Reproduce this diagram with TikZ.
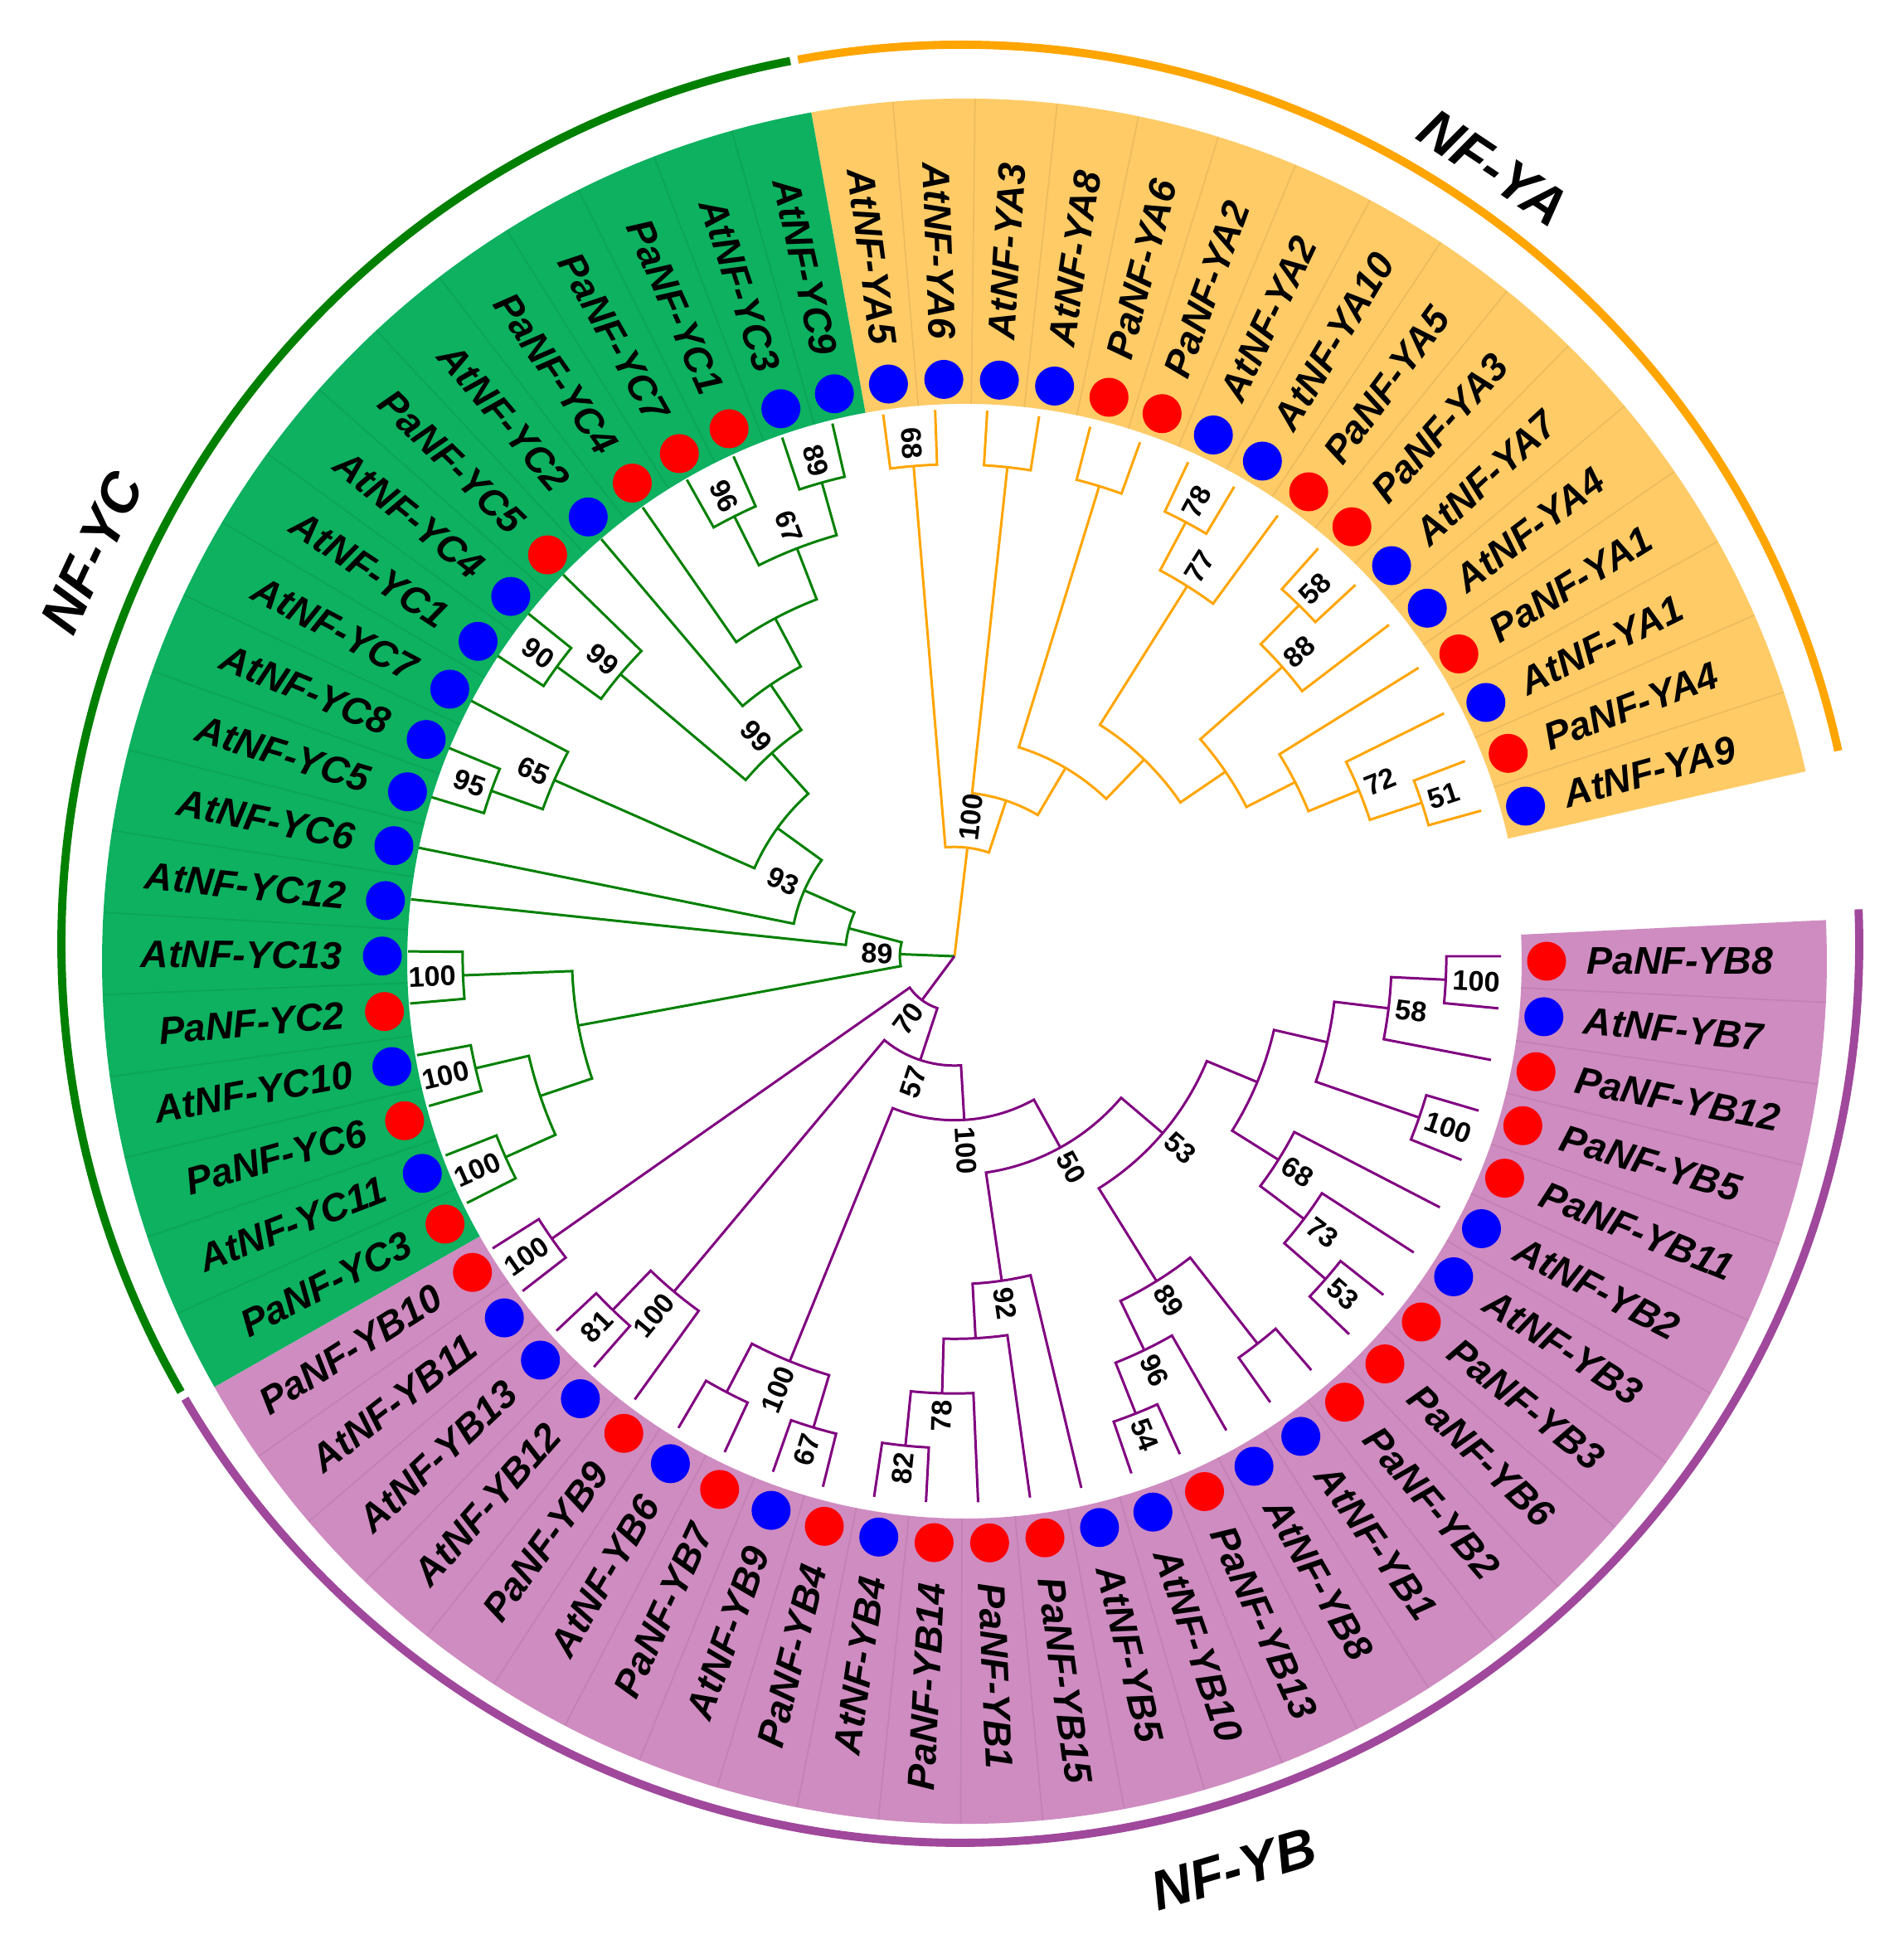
\documentclass[tikz,border=0pt]{standalone}
\usepackage{fontspec}
\setmainfont{Liberation Sans}
\usepackage{tikz}
\usetikzlibrary{calc}

\definecolor{yaline}{HTML}{FFA500}
\definecolor{ycline}{HTML}{008000}
\definecolor{ybline}{HTML}{800080}
\definecolor{yaband}{HTML}{FECB66}
\definecolor{ycband}{HTML}{0DB160}
\definecolor{ybband}{HTML}{CF8CC1}
\definecolor{ybring}{HTML}{A0489C}
\definecolor{At}{HTML}{0000FF}
\definecolor{Pa}{HTML}{FF0000}

\newcommand{\yalist}{At/YA5,At/YA6,At/YA3,At/YA8,Pa/YA6,Pa/YA2,At/YA2,At/YA10,Pa/YA5,Pa/YA3,At/YA7,At/YA4,Pa/YA1,At/YA1,Pa/YA4,At/YA9}
\newcommand{\yblist}{Pa/YB8,At/YB7,Pa/YB12,Pa/YB5,Pa/YB11,At/YB2,At/YB3,Pa/YB3,Pa/YB6,Pa/YB2,At/YB1,At/YB8,Pa/YB13,At/YB10,At/YB5,Pa/YB15,Pa/YB1,Pa/YB14,At/YB4,Pa/YB4,At/YB9,Pa/YB7,At/YB6,Pa/YB9,At/YB12,At/YB13,At/YB11,Pa/YB10}
\newcommand{\yclist}{Pa/YC3,At/YC11,Pa/YC6,At/YC10,Pa/YC2,At/YC13,At/YC12,At/YC6,At/YC5,At/YC8,At/YC7,At/YC1,At/YC4,Pa/YC5,At/YC2,Pa/YC4,Pa/YC7,Pa/YC1,At/YC3,At/YC9}

% angle and radius of a tip or clade, kept under its name
\newcommand{\setnode}[3]{%
  \expandafter\xdef\csname nodeang#1\endcsname{#2}%
  \expandafter\xdef\csname noderad#1\endcsname{#3}}

% tip: dot and name
\newcommand{\tip}[4]{%
  \setnode{#1}{#2}{6.59}%
  \pgfmathsetmacro\tipcos{cos(#2)}%
  \node[tipdot, fill=#3] (d#1) at (#2:7.02) {};%
  \ifdim\tipcos pt<0pt
    \node[tiplabel, anchor=east, rotate=#2-180] (l#1) at (#2:7.5) {#3NF-#4};%
  \else
    \node[tiplabel, anchor=west, rotate=#2] (l#1) at (#2:7.5) {#3NF-#4};%
  \fi}

% clade: name, first child, second child, height
\newcommand{\clade}[4]{%
  \expandafter\let\expandafter\cladeA\csname nodeang#2\endcsname
  \expandafter\let\expandafter\cladeB\csname nodeang#3\endcsname
  \expandafter\let\expandafter\cladeRa\csname noderad#2\endcsname
  \expandafter\let\expandafter\cladeRb\csname noderad#3\endcsname
  \pgfmathsetmacro\cladeR{6.59-0.659*#4}%
  \pgfmathsetmacro\cladeM{(\cladeA+\cladeB)/2}%
  \draw[branch] (\cladeA:\cladeRa) -- (\cladeA:\cladeR)
    arc[start angle=\cladeA, end angle=\cladeB, radius=\cladeR] -- (\cladeB:\cladeRb);
  \setnode{#1}{\cladeM}{\cladeR}}

% bootstrap value next to a clade
\newcommand{\boot}[2]{%
  \expandafter\let\expandafter\bootA\csname nodeang#1\endcsname
  \expandafter\let\expandafter\bootR\csname noderad#1\endcsname
  \pgfmathsetmacro\bootC{cos(\bootA)}%
  \pgfmathsetmacro\bootR{\bootR+0.08}%
  \ifdim\bootC pt<0pt
    \node[bootval, anchor=east, rotate=\bootA-180] (b#1) at (\bootA:\bootR) {#2};%
  \else
    \node[bootval, anchor=west, rotate=\bootA] (b#1) at (\bootA:\bootR) {#2};%
  \fi}

% stem from the root
\newcommand{\stem}[1]{%
  \expandafter\let\expandafter\stemA\csname nodeang#1\endcsname
  \expandafter\let\expandafter\stemR\csname noderad#1\endcsname
  \draw[branch] (root) -- (\stemA:\stemR);}

\begin{document}
\begin{tikzpicture}[
    tiplabel/.style={font=\fontsize{13.2}{15}\selectfont\bfseries\itshape, inner sep=0pt},
    tipdot/.style={circle, inner sep=0pt, minimum size=0.47cm},
    bootval/.style={font=\fontsize{9.7}{11}\selectfont\bfseries, inner sep=0pt},
    branch/.style={line width=0.85pt, line join=miter},
    ring/.style={line width=2.8pt},
    group/.style={font=\fontsize{19}{22}\selectfont\bfseries\itshape, inner sep=0pt},
    rowsep/.style={black, opacity=0.07, line width=0.5pt}
  ]
  \useasboundingbox (-11.51,-11.97) rectangle (11.44,11.53);
  \fill[white] (-11.51,-11.97) rectangle (11.44,11.53);
  \coordinate (root) at (0,0);

  \begin{scope}[shift={(0.12,-0.06)}]
    % coloured bands
    \fill[yaband] (100.235:6.72) arc[start angle=100.235, end angle=12.715, radius=6.72]
      -- (12.715:10.4) arc[start angle=12.715, end angle=100.235, radius=10.4] -- cycle;
    \fill[ybband] (2.735:6.72) arc[start angle=2.735, end angle=-150.425, radius=6.72]
      -- (-150.425:10.4) arc[start angle=-150.425, end angle=2.735, radius=10.4] -- cycle;
    \fill[ycband] (209.575:6.72) arc[start angle=209.575, end angle=100.235, radius=6.72]
      -- (100.235:10.4) arc[start angle=100.235, end angle=209.575, radius=10.4] -- cycle;
    \foreach \a in {1,...,15} \draw[rowsep] ({100.235-5.47*\a}:6.72) -- ({100.235-5.47*\a}:10.4);
    \foreach \a in {0,...,26} \draw[rowsep] ({-2.735-5.47*\a}:6.72) -- ({-2.735-5.47*\a}:10.4);
    \foreach \a in {0,...,18} \draw[rowsep] ({204.105-5.47*\a}:6.72) -- ({204.105-5.47*\a}:10.4);

    % tips
    \foreach \sp/\nm [count=\k from 0] in \yalist {
      \pgfmathsetmacro\ang{97.5-5.47*\k}
      \tip{ya\k}{\ang}{\sp}{\nm}
    }
    \foreach \sp/\nm [count=\k from 0] in \yblist {
      \pgfmathsetmacro\ang{-5.47*\k}
      \tip{yb\k}{\ang}{\sp}{\nm}
    }
    \foreach \sp/\nm [count=\k from 0] in \yclist {
      \pgfmathsetmacro\ang{206.84-5.47*\k}
      \tip{yc\k}{\ang}{\sp}{\nm}
    }
  \end{scope}

  % outer rings and group names
  \begin{scope}[shift={(0.07,0.15)}]
    \draw[ring, yaline] (100.4:10.84) arc[start angle=100.4, end angle=12.4, radius=10.84];
    \draw[ring, ycline] (209.9:10.84) arc[start angle=209.9, end angle=100.9, radius=10.84];
    \draw[ring, ybring] (2.2:10.84) arc[start angle=2.2, end angle=-149.6, radius=10.84];
  \end{scope}
  \begin{scope}[shift={(0.12,-0.06)}]
    \node[group, rotate=-33.7] (gya) at (56.3:11.5) {NF-YA};
    \node[group, rotate=64.9] (gyc) at (154.9:11.62) {NF-YC};
    \node[group, rotate=16.5] (gyb) at (-73.5:11.42) {NF-YB};
  \end{scope}

  % NF-YA
  \begin{scope}[yaline]
    \clade{yA68}{ya0}{ya1}{1}
    \clade{yA23}{ya2}{ya3}{1}
    \clade{yA45}{ya4}{ya5}{1}
    \clade{yA78}{ya6}{ya7}{1}
    \clade{yA77}{yA78}{ya8}{2}
    \clade{yA58}{ya9}{ya10}{1}
    \clade{yA88}{yA58}{ya11}{2}
    \clade{yA51}{ya14}{ya15}{1}
    \clade{yA72}{ya13}{yA51}{2}
    \clade{yAy}{ya12}{yA72}{3}
    \clade{yAx}{yA88}{yAy}{4}
    \clade{yAz}{yA77}{yAx}{5}
    \clade{yAw}{yA45}{yAz}{6}
    \clade{yAv}{yA23}{yAw}{7}
    \clade{yAr}{yA68}{yAv}{8}
    \stem{yAr}
  \end{scope}

  % NF-YC
  \begin{scope}[ycline]
    \clade{yC1}{yc0}{yc1}{1}
    \clade{yC2}{yc2}{yc3}{1}
    \clade{yC3}{yc4}{yc5}{1}
    \clade{yCp}{yC2}{yC1}{2}
    \clade{yCs}{yC3}{yCp}{3}
    \clade{yC95}{yc8}{yc9}{1}
    \clade{yC65}{yC95}{yc10}{2}
    \clade{yC90}{yc11}{yc12}{1}
    \clade{yC99a}{yC90}{yc13}{2}
    \clade{yC96}{yc16}{yc17}{1}
    \clade{yC89a}{yc18}{yc19}{1}
    \clade{yC67}{yC96}{yC89a}{2}
    \clade{yCt}{yc15}{yC67}{3}
    \clade{yCu}{yc14}{yCt}{4}
    \clade{yC99b}{yC99a}{yCu}{5}
    \clade{yCr}{yC65}{yC99b}{6}
    \clade{yC93}{yc7}{yCr}{7}
    \clade{yCq}{yc6}{yC93}{8}
    \clade{yCroot}{yCs}{yCq}{9}
    \stem{yCroot}
  \end{scope}

  % NF-YB
  \begin{scope}[ybline]
    \clade{yB100a}{yb0}{yb1}{1}
    \clade{yB58}{yB100a}{yb2}{2}
    \clade{yB100b}{yb3}{yb4}{1}
    \clade{yBa}{yB58}{yB100b}{3}
    \clade{yB53c}{yb7}{yb8}{1}
    \clade{yB73}{yb6}{yB53c}{2}
    \clade{yB68}{yb5}{yB73}{3}
    \clade{yBb}{yBa}{yB68}{4}
    \clade{yBp}{yb9}{yb10}{1}
    \clade{yB54}{yb12}{yb13}{1}
    \clade{yB96}{yb11}{yB54}{2}
    \clade{yB89}{yBp}{yB96}{3}
    \clade{yB53b}{yBb}{yB89}{5}
    \clade{yB82}{yb17}{yb18}{1}
    \clade{yB78}{yb16}{yB82}{2}
    \clade{yBz}{yB78}{yb15}{3}
    \clade{yB92}{yBz}{yb14}{4}
    \clade{yB50}{yB92}{yB53b}{6}
    \clade{yB67}{yb19}{yb20}{1}
    \clade{yBq}{yb21}{yb22}{1}
    \clade{yB100d}{yBq}{yB67}{2}
    \clade{yB100c}{yB100d}{yB50}{7}
    \clade{yB81}{yb24}{yb25}{1}
    \clade{yB100e}{yB81}{yb23}{2}
    \clade{yB57}{yB100e}{yB100c}{8}
    \clade{yB100f}{yb26}{yb27}{1}
    \clade{yB70}{yB100f}{yB57}{9}
    \stem{yB70}
  \end{scope}

  % bootstrap values
  \boot{yAr}{100} \boot{yA68}{68} \boot{yA78}{78} \boot{yA77}{77}
  \boot{yA58}{58} \boot{yA88}{88} \boot{yA72}{72} \boot{yA51}{51}
  \boot{yCroot}{89} \boot{yC93}{93} \boot{yC65}{65} \boot{yC95}{95}
  \boot{yC99b}{99} \boot{yC99a}{99} \boot{yC90}{90} \boot{yC67}{67}
  \boot{yC96}{96} \boot{yC89a}{89} \boot{yC1}{100} \boot{yC2}{100} \boot{yC3}{100}
  \boot{yB70}{70} \boot{yB57}{57} \boot{yB100c}{100} \boot{yB100d}{100}
  \boot{yB67}{67} \boot{yB100e}{100} \boot{yB81}{81} \boot{yB100f}{100}
  \boot{yB50}{50} \boot{yB92}{92} \boot{yB78}{78} \boot{yB82}{82}
  \boot{yB53b}{53} \boot{yB89}{89} \boot{yB96}{96} \boot{yB54}{54}
  \boot{yB68}{68} \boot{yB73}{73} \boot{yB53c}{53} \boot{yB58}{58}
  \boot{yB100a}{100} \boot{yB100b}{100}
\end{tikzpicture}
\end{document}
